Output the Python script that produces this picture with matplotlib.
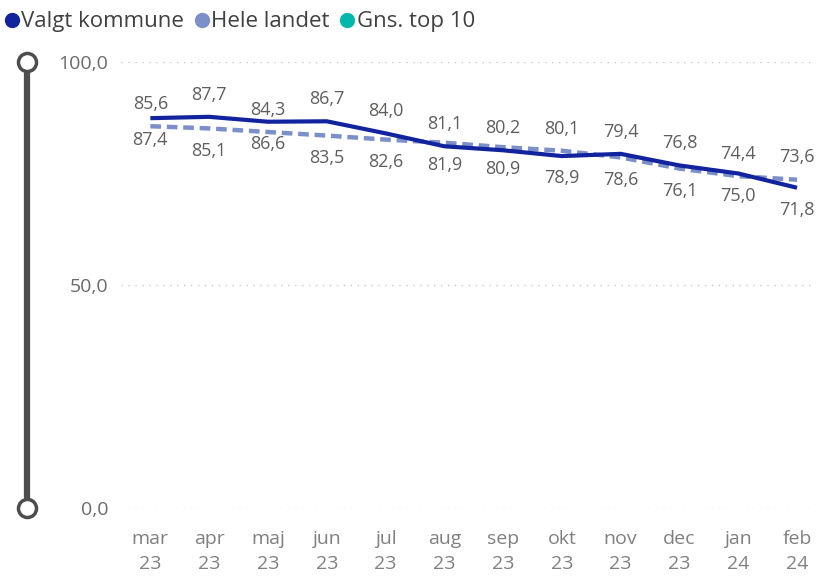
import matplotlib.pyplot as plt
from matplotlib.lines import Line2D

months = ["mar\n23", "apr\n23", "maj\n23", "jun\n23", "jul\n23", "aug\n23",
          "sep\n23", "okt\n23", "nov\n23", "dec\n23", "jan\n24", "feb\n24"]
valgt = [87.4, 87.7, 86.6, 86.7, 84.0, 81.1, 80.2, 78.9, 79.4, 76.8, 75.0, 71.8]
hele = [85.6, 85.1, 84.3, 83.5, 82.6, 81.9, 80.9, 80.1, 78.6, 76.1, 74.4, 73.6]
series_names = ["Valgt kommune", "Hele landet", "Gns. top 10"]

# label placement as in the report (True = valgt label above its point)
valgt_above = [False, True, False, True, True, True, True, False, True, True, False, False]

plt.rcParams["font.family"] = ["Open Sans", "DejaVu Sans"]

c_valgt = "#12239E"
c_hele = "#7B8FC8"
c_top = "#01B8AA"
txt = "#605E5C"

fig = plt.figure(figsize=(8.19, 5.77), dpi=100)
ax = fig.add_axes([0.1477, 0.1196, 0.847, 0.773])

x = list(range(len(months)))
ax.plot(x, hele, color=c_hele, lw=3.2, linestyle=(0, (2.4, 1.3)), zorder=3)
ax.plot(x, valgt, color=c_valgt, lw=3.0, solid_capstyle="butt", zorder=4)

for i in x:
    up = valgt_above[i]
    ax.annotate(f"{valgt[i]:.1f}".replace(".", ","), (i, valgt[i]),
                xytext=(0, 16 if up else -16), textcoords="offset points",
                ha="center", va="center", fontsize=13, color=txt)
    ax.annotate(f"{hele[i]:.1f}".replace(".", ","), (i, hele[i]),
                xytext=(0, -16 if up else 16), textcoords="offset points",
                ha="center", va="center", fontsize=13, color=txt)

ax.set_xlim(-0.5, 11.3)
ax.set_ylim(0, 100)
ax.set_yticks([0, 50, 100])
ax.set_yticklabels(["0,0", "50,0", "100,0"])
ax.set_xticks(x)
ax.set_xticklabels(months, linespacing=1.45)
ax.tick_params(axis="y", length=0, pad=9, labelsize=14, labelcolor="#6b6b6b")
ax.tick_params(axis="x", length=0, pad=16, labelsize=14, labelcolor="#808080")
for s in ax.spines.values():
    s.set_visible(False)
ax.grid(axis="y", color="#c8c8c8", lw=1, linestyle=(0, (1, 4)))
ax.set_axisbelow(True)

# zoom slider on the left
tr = ax.get_yaxis_transform()
ax.plot([-0.1355, -0.1355], [0, 100], transform=tr, clip_on=False,
        color="#4d4d4d", lw=4.5, zorder=5)
ax.plot([-0.1355, -0.1355], [0, 100], transform=tr, clip_on=False,
        linestyle="none", marker="o", markersize=13, mfc="white",
        mec="#4d4d4d", mew=2.5, zorder=6)

handles = [Line2D([], [], linestyle="none", marker="o", markersize=10, color=c)
           for c in (c_valgt, c_hele, c_top)]
fig.legend(handles, series_names, loc="center left", bbox_to_anchor=(0.006, 0.962),
           borderaxespad=0, borderpad=0, ncol=3, frameon=False, handlelength=0.6,
           handletextpad=0.12, columnspacing=0.5, fontsize=16,
           labelcolor="#404040")

fig.savefig("out.png", dpi=100)
